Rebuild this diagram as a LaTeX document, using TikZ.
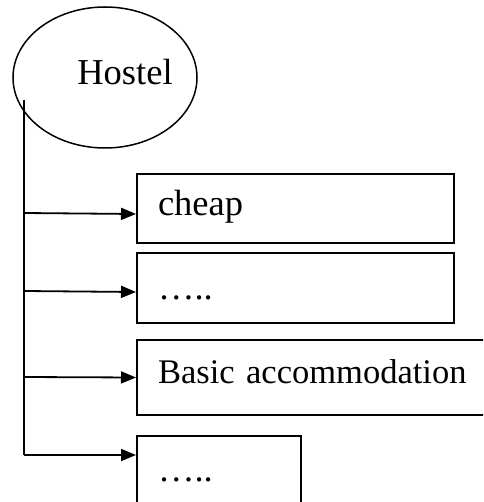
\documentclass[tikz,border=0pt]{standalone}
\usepackage{fontspec}
\setmainfont{Liberation Serif}
\usetikzlibrary{arrows.meta,shapes.geometric,calc}
\begin{document}
\begin{tikzpicture}[x=1pt,y=-1pt,
  big/.style={font=\fontsize{36.5}{40}\selectfont},
  box/.style={draw,line width=2pt,rectangle,inner xsep=21pt,inner ysep=0pt,
    align=left,anchor=north west,big},
  link/.style={line width=1.8pt},
  arr/.style={link,-{Triangle[length=15pt,width=12pt]}}]
\clip (0,0) rectangle (483,502);
\node[draw,ellipse,line width=1.5pt,minimum width=184pt,minimum height=141pt,inner sep=0pt] (hostel) at (105,77.5) {};
\node[big,anchor=base,inner sep=0pt] (hosteltxt) at (125,85) {Hostel};
\node[box,text width=275pt,minimum height=69pt,text height=25pt,text depth=10pt] (cheap) at (136,173) {cheap};
\node[box,text width=275pt,minimum height=70pt,text height=25pt,text depth=3pt] (dotsa) at (136,252) {…..};
\node[box,font=\fontsize{34.5}{40}\selectfont,text width=360pt,minimum height=75pt,text height=25pt,text depth=14pt] (basic) at (136,339) {Basic accommodation};
\node[box,text width=122pt,minimum height=90pt,text height=20pt,text depth=20pt] (dotsb) at (136,435) {…..};
\coordinate (trunk) at (24,100);
\coordinate (endb) at ($(dotsb.north west)+(0,20)$);
\draw[link] (trunk) -- (trunk |- endb);
\draw[arr] (trunk |- 0,213) -- ([yshift=-5.5pt]cheap.west);
\draw[arr] (trunk |- 0,291) -- ([yshift=-4pt]dotsa.west);
\draw[arr] (trunk |- 0,377) -- (basic.west);
\draw[arr] (trunk |- endb) -- (endb);
\end{tikzpicture}
\end{document}
